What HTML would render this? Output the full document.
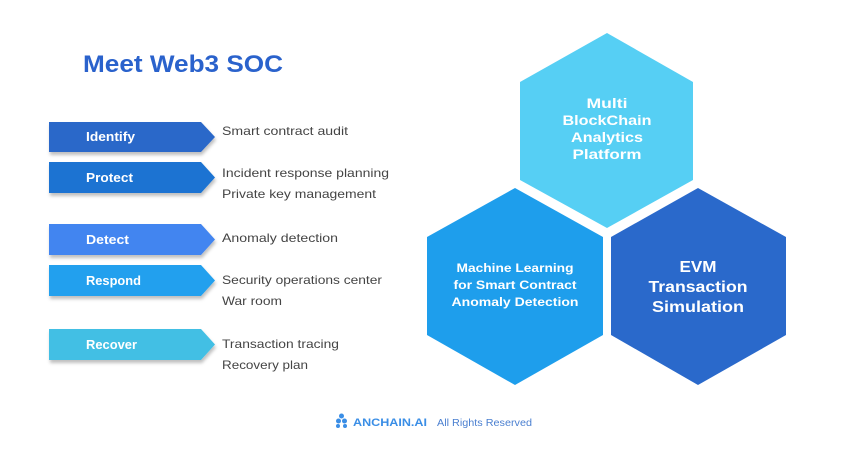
<!DOCTYPE html>
<html><head><meta charset="utf-8"><style>
html,body{margin:0;padding:0;background:#fff;width:850px;height:455px;overflow:hidden}
text{font-family:"Liberation Sans",sans-serif}
</style></head><body>
<svg width="850" height="455" viewBox="0 0 850 455" xmlns="http://www.w3.org/2000/svg">
<defs><filter id="sh" x="-10%" y="-20%" width="130%" height="160%"><feDropShadow dx="1" dy="3" stdDeviation="1.5" flood-color="#000" flood-opacity="0.25"/></filter></defs>
<text x="83" y="72" font-size="24" font-weight="bold" fill="#2a62cc" textLength="200" lengthAdjust="spacingAndGlyphs">Meet Web3 SOC</text>

<g filter="url(#sh)">
<polygon points="49,122 201,122 215,137 201,152 49,152" fill="#2a67c9"/>
<polygon points="49,162 201,162 215,177.5 201,193 49,193" fill="#1a73d2"/>
<polygon points="49,224 201,224 215,239.5 201,255 49,255" fill="#4285f0"/>
<polygon points="49,265 201,265 215,280.5 201,296 49,296" fill="#22a0ee"/>
<polygon points="49,329 201,329 215,344.5 201,360 49,360" fill="#42bfe4"/>
</g>
<g fill="#fff" font-size="13" font-weight="bold">
<text x="86" y="141" textLength="49" lengthAdjust="spacingAndGlyphs">Identify</text>
<text x="86" y="182" textLength="47" lengthAdjust="spacingAndGlyphs">Protect</text>
<text x="86" y="244" textLength="43" lengthAdjust="spacingAndGlyphs">Detect</text>
<text x="86" y="285" textLength="55" lengthAdjust="spacingAndGlyphs">Respond</text>
<text x="86" y="349" textLength="51" lengthAdjust="spacingAndGlyphs">Recover</text>
</g>
<g fill="#444" font-size="12">
<text x="222" y="135" textLength="126" lengthAdjust="spacingAndGlyphs">Smart contract audit</text>
<text x="222" y="177" textLength="167" lengthAdjust="spacingAndGlyphs">Incident response planning</text>
<text x="222" y="198" textLength="154" lengthAdjust="spacingAndGlyphs">Private key management</text>
<text x="222" y="242" textLength="116" lengthAdjust="spacingAndGlyphs">Anomaly detection</text>
<text x="222" y="284" textLength="160" lengthAdjust="spacingAndGlyphs">Security operations center</text>
<text x="222" y="305" textLength="60" lengthAdjust="spacingAndGlyphs">War room</text>
<text x="222" y="348" textLength="117" lengthAdjust="spacingAndGlyphs">Transaction tracing</text>
<text x="222" y="369" textLength="86" lengthAdjust="spacingAndGlyphs">Recovery plan</text>
</g>

<polygon points="607,33 693,82 693,180 607,228 520,180 520,82" fill="#56cff4"/>
<polygon points="515,188 603,237 603,335 515,385 427,335 427,237" fill="#1e9eec"/>
<polygon points="698,188 786,237 786,335 698,385 611,335 611,237" fill="#2a69cb"/>

<g fill="#fff" font-weight="bold" text-anchor="middle">
<g font-size="14">
<text x="607" y="108" textLength="41" lengthAdjust="spacingAndGlyphs">Multi</text>
<text x="607" y="125" textLength="89" lengthAdjust="spacingAndGlyphs">BlockChain</text>
<text x="607" y="142" textLength="72" lengthAdjust="spacingAndGlyphs">Analytics</text>
<text x="607" y="159" textLength="69" lengthAdjust="spacingAndGlyphs">Platform</text>
</g>
<g font-size="12">
<text x="515" y="272" textLength="117" lengthAdjust="spacingAndGlyphs">Machine Learning</text>
<text x="515" y="289" textLength="123" lengthAdjust="spacingAndGlyphs">for Smart Contract</text>
<text x="515" y="306" textLength="127" lengthAdjust="spacingAndGlyphs">Anomaly Detection</text>
</g>
<g font-size="16">
<text x="698" y="272" textLength="37" lengthAdjust="spacingAndGlyphs">EVM</text>
<text x="698" y="292" textLength="99" lengthAdjust="spacingAndGlyphs">Transaction</text>
<text x="698" y="312" textLength="92" lengthAdjust="spacingAndGlyphs">Simulation</text>
</g>
</g>

<g fill="#3a8ee6">
<circle cx="341.5" cy="416" r="2.5"/>
<circle cx="338.5" cy="421" r="2.5"/>
<circle cx="344.5" cy="421" r="2.5"/>
<circle cx="338" cy="426" r="2"/>
<circle cx="345" cy="426" r="2"/>
</g>
<text x="353" y="426" font-size="11" font-weight="bold" fill="#3a8ee6" textLength="74" lengthAdjust="spacingAndGlyphs">ANCHAIN.AI</text>
<text x="437" y="426" font-size="10" fill="#4a7fd0" textLength="95" lengthAdjust="spacingAndGlyphs">All Rights Reserved</text>
</svg>
</body></html>
